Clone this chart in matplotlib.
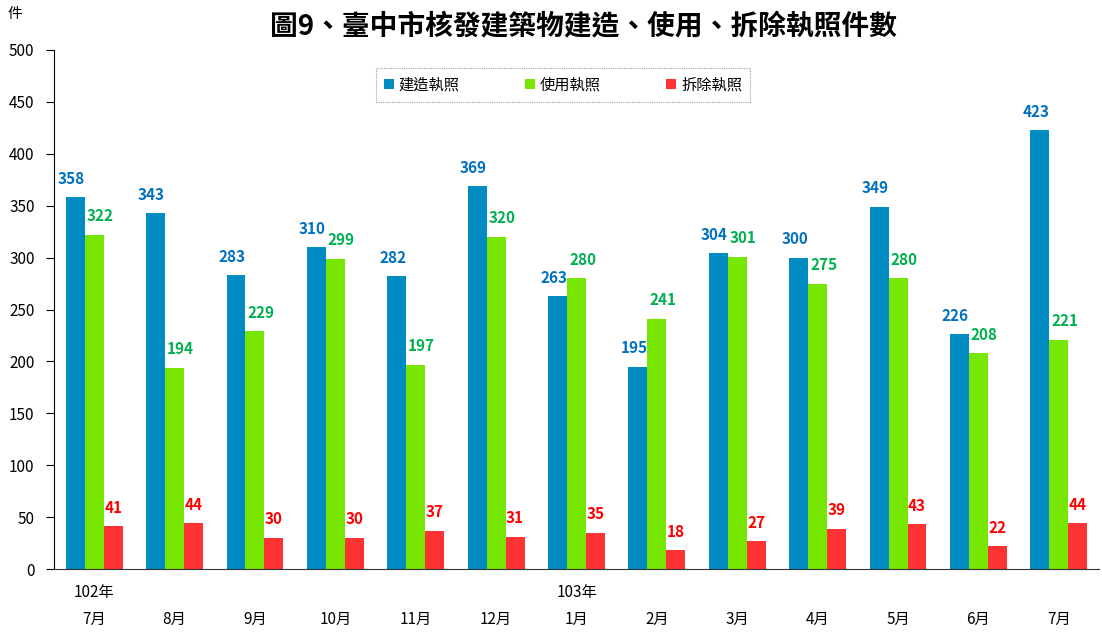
import matplotlib
matplotlib.use("Agg")
import matplotlib.pyplot as plt
from matplotlib.transforms import ScaledTranslation
import numpy as np

plt.rcParams['font.family'] = ['Noto Sans CJK TC', 'DejaVu Sans']

months = ["7月", "8月", "9月", "10月", "11月", "12月", "1月", "2月", "3月", "4月", "5月", "6月", "7月"]
years = {0: "102年", 6: "103年"}
construction = [358, 343, 283, 310, 282, 369, 263, 195, 304, 300, 349, 226, 423]
usage = [322, 194, 229, 299, 197, 320, 280, 241, 301, 275, 280, 208, 221]
demolition = [41, 44, 30, 30, 37, 31, 35, 18, 27, 39, 43, 22, 44]
series_names = ["建造執照", "使用執照", "拆除執照"]
bar_colors = ["#008CC2", "#77E600", "#FF3333"]
label_colors = ["#0070C0", "#00B050", "#FF0000"]
label_shift_px = [-4, 6, 0]

fig = plt.figure(figsize=(11.02, 6.33), dpi=100)
ax = fig.add_axes([54/1102, 1-569/633, 1045/1102, 519/633])

x = np.arange(len(months))
w = 0.236
series = [construction, usage, demolition]
handles = []
for i, (vals, c, lc, name) in enumerate(zip(series, bar_colors, label_colors, series_names)):
    pos = x + (i - 1) * w
    b = ax.bar(pos, vals, width=w, color=c, label=name, zorder=2)
    handles.append(b)
    tr = ax.transData + ScaledTranslation(label_shift_px[i] / 100, 0, fig.dpi_scale_trans)
    for p, v in zip(pos, vals):
        ax.text(p, v + 10, str(v), ha='center', va='bottom', color=lc,
                fontsize=11, fontweight='bold', transform=tr)

ax.set_xlim(-0.5, len(months) - 0.5)
ax.set_ylim(0, 500)
ax.set_yticks(range(0, 501, 50))
ax.tick_params(axis='y', direction='out', length=6, labelsize=11, pad=8, colors='black')
ax.set_xticks([])
for s in ['top', 'right']:
    ax.spines[s].set_visible(False)
ax.spines['left'].set_color('black')
ax.spines['bottom'].set_color('#333333')

for i, m in enumerate(months):
    ax.text(i, -0.097, m, transform=ax.get_xaxis_transform(), ha='center', va='center', fontsize=11)
for i, yv in years.items():
    ax.text(i, -0.045, yv, transform=ax.get_xaxis_transform(), ha='center', va='center', fontsize=11)

fig.text(15/1102, 1-14/633, "件", ha='center', va='center', fontsize=10.5)
fig.text(583/1102, 1-27/633, "圖9、臺中市核發建築物建造、使用、拆除執照件數",
         ha='center', va='center', fontsize=20, fontweight='bold')

leg = ax.legend(handles=handles, loc='center', bbox_to_anchor=(563/1102, 1-85/633),
                bbox_transform=fig.transFigure, ncol=3, frameon=True, fontsize=11,
                handlelength=0.65, handleheight=0.65, handletextpad=0.3, columnspacing=4.3,
                borderpad=0.55, borderaxespad=0, fancybox=False)
leg.get_frame().set_edgecolor('#888888')
leg.get_frame().set_linestyle((0, (1, 1)))
leg.get_frame().set_linewidth(0.8)

fig.savefig("out.png", dpi=100)
